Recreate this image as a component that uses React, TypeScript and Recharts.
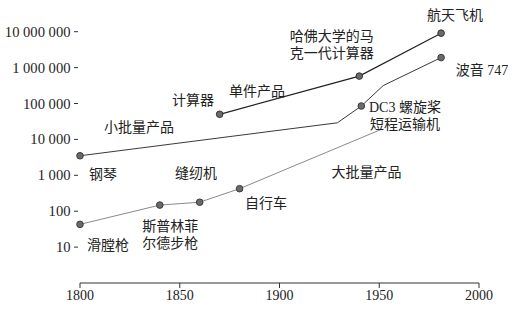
import React from 'react';
import { LineChart, Line, XAxis, YAxis, ReferenceDot } from 'recharts';

const singleItem = [
  { year: 1870, value: 50000, marked: true },
  { year: 1940, value: 580000, marked: true },
  { year: 1981, value: 9100000, marked: true },
];

const smallBatch = [
  { year: 1800, value: 3500, marked: true },
  { year: 1929, value: 29000, marked: false },
  { year: 1941, value: 85000, marked: true },
  { year: 1952, value: 316000, marked: false },
  { year: 1981, value: 1900000, marked: true },
];

const massProduction = [
  { year: 1800, value: 43, marked: true },
  { year: 1840, value: 148, marked: true },
  { year: 1860, value: 178, marked: true },
  { year: 1880, value: 424, marked: true },
  { year: 1951, value: 19000, marked: false },
];

const xTicks = [1800, 1850, 1900, 1950, 2000];
const yTicks = [10, 100, 1000, 10000, 100000, 1000000, 10000000];
const yTickLabels = ['10', '100', '1 000', '10 000', '100 000', '1 000 000', '10 000 000'];

const annotations = [
  { year: 1988, value: 27900000, lines: ['航天飞机'] },
  { year: 2001.5, value: 857000, lines: ['波音 747'] },
  { year: 1926.2, value: 4300000, lines: ['哈佛大学的马', '克一代计算器'] },
  { year: 1888.7, value: 222900, lines: ['单件产品'] },
  { year: 1856.6, value: 125000, lines: ['计算器'] },
  { year: 1829.6, value: 20800, lines: ['小批量产品'] },
  { year: 1811.5, value: 1066, lines: ['钢琴'] },
  { year: 1858.1, value: 1087, lines: ['缝纫机'] },
  { year: 1893.2, value: 169, lines: ['自行车'] },
  { year: 1845.3, value: 21.7, lines: ['斯普林菲', '尔德步枪'] },
  { year: 1814, value: 11.4, lines: ['滑膛枪'] },
  { year: 1943.6, value: 1181, lines: ['大批量产品'] },
  { year: 1962.9, value: 44900, lines: ['DC3 螺旋桨', '短程运输机'] },
];

const FONT = "'Liberation Serif', 'Noto Sans CJK SC', serif";
const TEXT_COLOR = '#222';

const YTick = (props: any) => {
  const { x, y, payload } = props;
  const idx = yTicks.indexOf(payload.value);
  const label = idx >= 0 ? yTickLabels[idx] : String(payload.value);
  return (
    <g>
      <text x={x - 2.5} y={y} textAnchor="end" dominantBaseline="central" fontSize={14.6} fontFamily={FONT} fill={TEXT_COLOR}>
        {label}
      </text>
      <line x1={x + 1} x2={x + 5} y1={y} y2={y} stroke="#333" strokeWidth={1} />
    </g>
  );
};

const makeDot = (fill: string, stroke: string) => (props: any) => {
  const { cx, cy, payload, index } = props;
  if (!payload || !payload.marked) return <g key={`d-${index}`} />;
  return <circle key={`d-${index}`} cx={cx} cy={cy} r={3.3} fill={fill} stroke={stroke} strokeWidth={1} />;
};

const makeLabel = (lines: string[]) => (props: any) => {
  const vb = props.viewBox || {};
  const cx = vb.x + (vb.width || 0) / 2;
  const cy = vb.y + (vb.height || 0) / 2;
  const lh = 17.6;
  const start = cy - ((lines.length - 1) * lh) / 2;
  return (
    <g>
      {lines.map((l, i) => (
        <text key={i} x={cx} y={start + i * lh} textAnchor="middle" dominantBaseline="central" fontSize={14} fontFamily={FONT} fill={TEXT_COLOR}>
          {l}
        </text>
      ))}
    </g>
  );
};

export default function App() {
  return (
    <div style={{ position: 'absolute', left: 0, top: 0, width: 515, height: 310, background: '#fff' }}>
      <LineChart width={515} height={310} margin={{ top: 13.75, right: 36, bottom: 0, left: 0 }}>
        <XAxis
          type="number"
          dataKey="year"
          domain={[1800, 2000]}
          ticks={xTicks}
          interval={0}
          height={27}
          tickSize={5}
          axisLine={{ stroke: '#333' }}
          tickLine={{ stroke: '#333' }}
          tick={{ fontSize: 14, fontFamily: FONT, fill: TEXT_COLOR }}
        />
        <YAxis
          type="number"
          dataKey="value"
          scale="log"
          domain={[1, 31622776]}
          ticks={yTicks}
          interval={0}
          width={80}
          tickSize={5}
          axisLine={false}
          tickLine={false}
          tick={<YTick />}
        />
        <Line data={massProduction} dataKey="value" type="linear" stroke="#8a8a8a" strokeWidth={1} dot={makeDot('#6a6a6a', '#3a3a3a')} isAnimationActive={false} />
        <Line data={smallBatch} dataKey="value" type="linear" stroke="#3a3a3a" strokeWidth={1} dot={makeDot('#6a6a6a', '#3a3a3a')} isAnimationActive={false} />
        <Line data={singleItem} dataKey="value" type="linear" stroke="#222" strokeWidth={1.2} dot={makeDot('#6a6a6a', '#333')} isAnimationActive={false} />
        {annotations.map((a, i) => (
          <ReferenceDot key={i} x={a.year} y={a.value} r={0} fill="none" stroke="none" ifOverflow="visible" label={makeLabel(a.lines)} />
        ))}
      </LineChart>
    </div>
  );
}
